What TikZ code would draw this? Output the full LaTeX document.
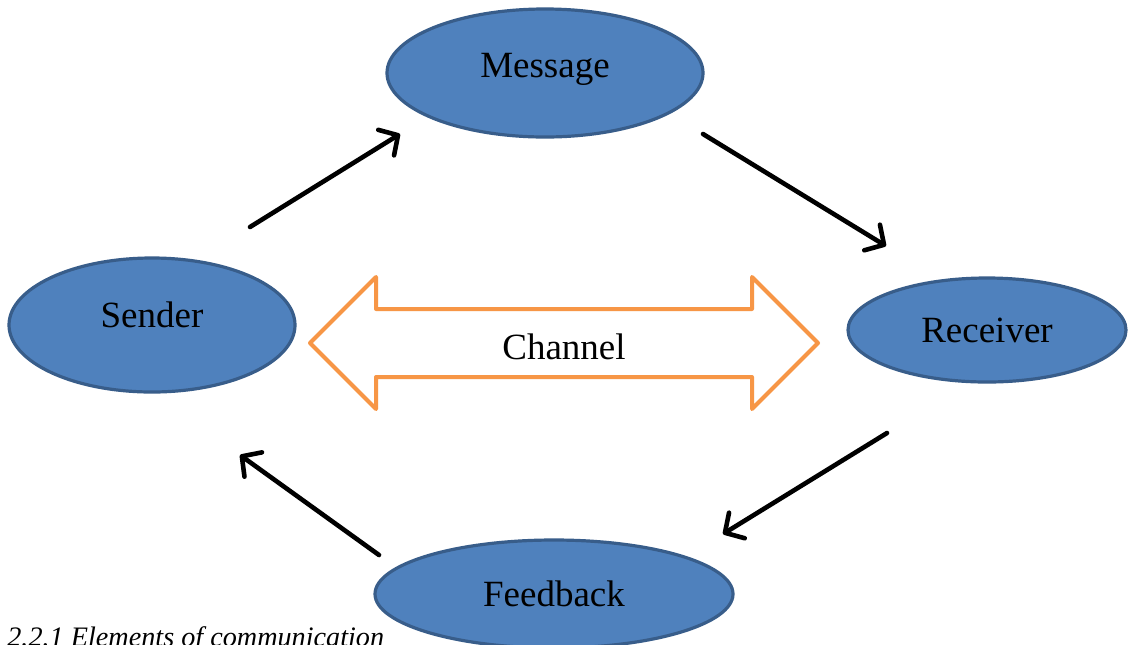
\documentclass[tikz,border=0pt]{standalone}
\usepackage{fontspec}
\setmainfont{Liberation Serif}
\definecolor{elemblue}{RGB}{79, 129, 189}
\definecolor{elemedge}{RGB}{56, 93, 138}
\definecolor{chanorange}{RGB}{247, 150, 70}
\usetikzlibrary{arrows.meta, shapes.geometric, shapes.arrows}
\tikzset{
	element/.style={ellipse, draw=elemedge, fill=elemblue, line width=1.6pt, inner sep=0pt, font=\fontsize{18.5}{22}\selectfont},
	flowarrow/.style={-{Straight Barb[length=7pt, width=15pt, round]}, line width=2.3pt, line cap=round, draw=black},
	channel/.style={double arrow, draw=chanorange, line width=2pt, line join=round, double arrow tip angle=90, double arrow head extend=16pt, minimum height=254pt, text height=16.8pt, text depth=0pt, inner xsep=2pt, inner ysep=7.6pt, font=\fontsize{18.5}{22}\selectfont},
}
\begin{document}
\begin{tikzpicture}[x=0.5pt, y=0.5pt]
		\fill[white] (0,0) rectangle (1128,-644);
		\useasboundingbox (0,0) rectangle (1128,-644);
		\node[element, minimum width=158pt, minimum height=64pt, text depth=8pt] (message) at (545,-73) {Message};
		\node[element, minimum width=143pt, minimum height=67pt, text depth=10pt] (sender) at (152,-325) {Sender};
		\node[element, minimum width=139pt, minimum height=52pt] (receiver) at (987,-330) {Receiver};
		\node[element, minimum width=179pt, minimum height=54pt] (feedback) at (554,-594) {Feedback};
		\node[channel] (chan) at (564,-343) {Channel};
		\node[anchor=base west, inner sep=0pt, font=\fontsize{14.1}{16}\selectfont\itshape] (caption) at (7,-646) {2.2.1 Elements of communication};
		\coordinate (sm1) at (250,-227);
		\coordinate (sm2) at (400,-134);
		\coordinate (mr1) at (703,-134);
		\coordinate (mr2) at (886,-246);
		\coordinate (rf1) at (887,-433);
		\coordinate (rf2) at (723,-534);
		\coordinate (fs1) at (379,-555);
		\coordinate (fs2) at (240,-455);
		\foreach \a/\b in {sm1/sm2,mr1/mr2,rf1/rf2,fs1/fs2}{\draw[flowarrow] (\a) -- (\b);}
	\end{tikzpicture}
\end{document}
